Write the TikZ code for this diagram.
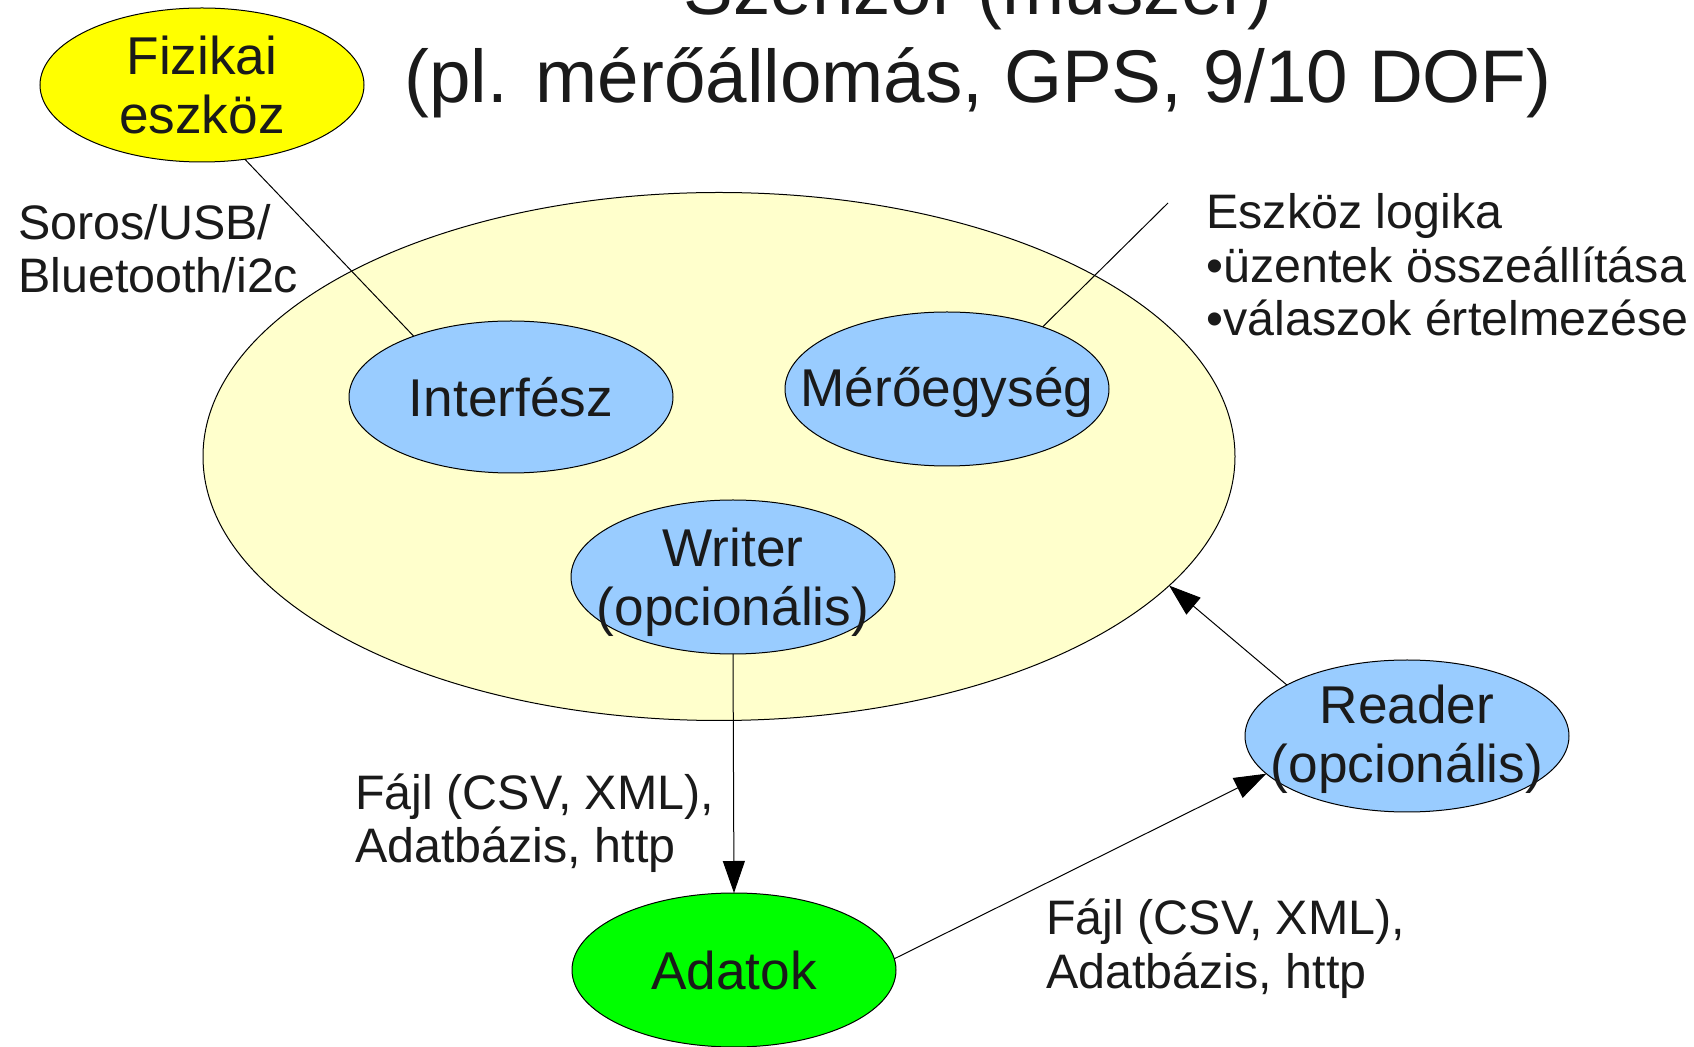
\documentclass[tikz,border=0pt]{standalone}
\usepackage{fontspec}
\setmainfont{Liberation Sans}
\usetikzlibrary{shapes.geometric,arrows.meta}
\definecolor{txt}{HTML}{1A1A1A}
\definecolor{yel}{HTML}{FFFF00}
\definecolor{pale}{HTML}{FFFFCC}
\definecolor{blu}{HTML}{99CCFF}
\definecolor{grn}{HTML}{00FF00}
\begin{document}
\begin{tikzpicture}[x=0.5pt,y=-0.5pt,
  ell/.style={ellipse, draw=black, line width=0.5pt, inner sep=0pt, outer sep=0pt,
              minimum width=162pt, minimum height=77pt},
  ntext/.style={font=\fontsize{26.6}{29.5}\selectfont, text=txt, align=center, inner sep=0pt},
  lbl/.style={font=\fontsize{24.2}{26.8}\selectfont, text=txt, align=left, inner sep=0pt, anchor=base west},
  conn/.style={draw=black, line width=0.5pt},
  arr/.style={conn, -{Triangle[length=16pt, width=11pt]}}]
\useasboundingbox[fill=white] (0,0) rectangle (1694,1047);
% title
\node[font=\fontsize{37.3}{44}\selectfont, text=txt, align=center, inner sep=0pt, anchor=base]
  (title) at (978,103) {Szenzor (műszer)\\(pl. mérőállomás, GPS, 9/10 DOF)};
% ellipses
\node[ell, fill=yel] (fz) at (202,85) {};
\node[ell, fill=pale, minimum width=516pt, minimum height=264pt] (big) at (719,456.5) {};
\node[ell, fill=blu, minimum height=76pt] (if) at (511,397) {};
\node[ell, fill=blu] (me) at (947,389) {};
\node[ell, fill=blu] (wr) at (733,577) {};
\node[ell, fill=blu, minimum height=76pt] (rd) at (1407,736) {};
\node[ell, fill=grn] (ad) at (734,970) {};
% texts in ellipses
\node[ntext] (fzt) at (fz.center) {Fizikai\\eszköz};
\node[ntext] (ift) at (if.center) {Interfész};
\node[ntext, yshift=-1.5pt] (met) at (me.center) {Mérőegység};
\node[ntext, yshift=-2.5pt] (wrt) at (wr.center) {Writer\\(opcionális)};
\node[ntext, yshift=-1.5pt] (rdt) at (rd.center) {Reader\\(opcionális)};
\node[ntext] (adt) at (ad.center) {Adatok};
% labels (anchor = baseline of last line)
\node[lbl] (soros) at (18,293) {Soros/USB/\\Bluetooth/i2c};
\node[lbl] (logika) at (1206,336) {Eszköz logika\\•üzentek összeállítása\\•válaszok értelmezése};
\node[lbl] (fajl1) at (355,863) {Fájl (CSV, XML),\\Adatbázis, http};
\node[lbl] (fajl2) at (1046,988) {Fájl (CSV, XML),\\Adatbázis, http};
\coordinate (lg) at (1168,203);
% connectors
\draw[conn] (fz.-60) -- (if.148);
\draw[conn] (me.33) -- (lg);
\draw[arr] (wr.south) -- (ad.north);
\draw[arr] (ad.4) -- (rd.195);
\draw[arr] (rd.157) -- (big.-16.5);
\end{tikzpicture}
\end{document}
